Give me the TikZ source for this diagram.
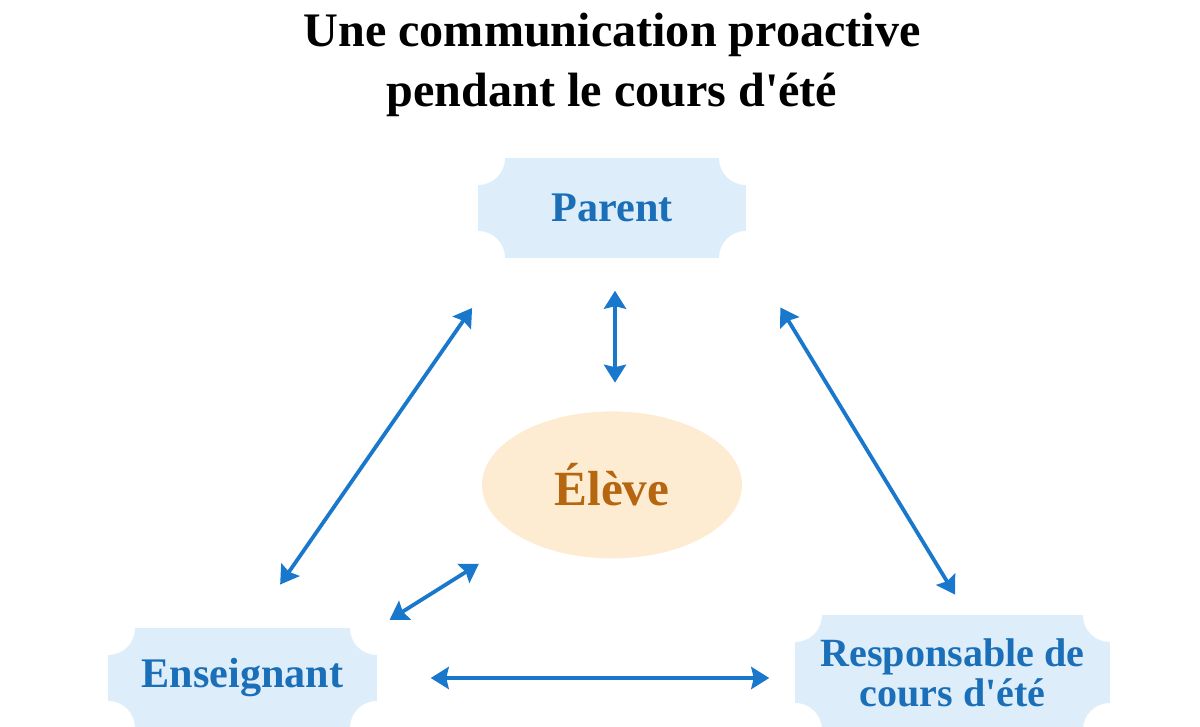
\documentclass[tikz,border=0pt]{standalone}
\usepackage{fontspec}
\setmainfont{Liberation Serif}
\usepackage{xcolor}
\usetikzlibrary{arrows.meta, positioning, shapes.geometric, calc}
\definecolor{roleblue}{HTML}{1B6FB8}
\definecolor{rolefill}{HTML}{DDEEFA}
\definecolor{pupilfill}{HTML}{FDEBD2}
\definecolor{pupilbrown}{HTML}{B5660E}
\definecolor{linkblue}{HTML}{1A78CC}

\begin{document}
\begin{tikzpicture}[
    heading/.style={font=\fontsize{13.7}{17}\selectfont\bfseries, align=center, inner sep=0pt},
    role/.style={fill=rolefill, minimum height=1cm, inner sep=2pt, align=center, text=roleblue,
        font=\fontsize{12}{12}\selectfont\bfseries,
        path picture={
            \foreach \corner in {north west, north east, south west, south east}
                \fill[white] (path picture bounding box.\corner) circle (0.27cm);
        }},
    pupil/.style={ellipse, fill=pupilfill, minimum width=2.6cm, minimum height=1.47cm, inner sep=0pt,
        text=pupilbrown, font=\fontsize{14}{14}\selectfont\bfseries},
    link/.style={<->, >={Stealth[length=1.8mm, width=2.2mm, inset=0.25mm]}, line width=0.38mm, draw=linkblue},
]
\useasboundingbox (0,0) rectangle (12,7.27);

% Title
\node[heading] (title) at (6.12,6.62) {Une communication proactive\\pendant le cours d\textquotesingle été};

% Roles
\node[role, minimum width=2.68cm] (parent) at (6.12,5.19) {Parent};
\node[pupil, below=1.52cm of parent] (eleve) {Élève};
\node[role, minimum width=2.69cm] (ens) at (2.425,0.49) {Enseignant};
\node[role, minimum width=3.15cm, minimum height=1.15cm, font=\fontsize{11.4}{10}\selectfont\bfseries] (resp) at (9.525,0.545) {Responsable de\\cours d\textquotesingle été};

% Links
\draw[link, shorten <=0.32cm, shorten >=0.28cm] ([xshift=0.03cm]parent.south) -- ([xshift=0.03cm]eleve.north);
\draw[link, shorten <=0.6cm, shorten >=0.52cm] ([xshift=0.29cm]parent.south west) -- ([xshift=0.08cm]ens.north);
\draw[link, shorten <=0.57cm, shorten >=0.23cm] ([xshift=0.04cm]parent.south east) -- ([xshift=0.145cm]resp.north);
\draw[link, shorten <=0.49cm, shorten >=0.14cm] (eleve.210) -- (ens.north east);
\draw[link, shorten <=0.53cm, shorten >=0.25cm] (ens.east) -- (ens.east -| resp.west);

\end{tikzpicture}
\end{document}
